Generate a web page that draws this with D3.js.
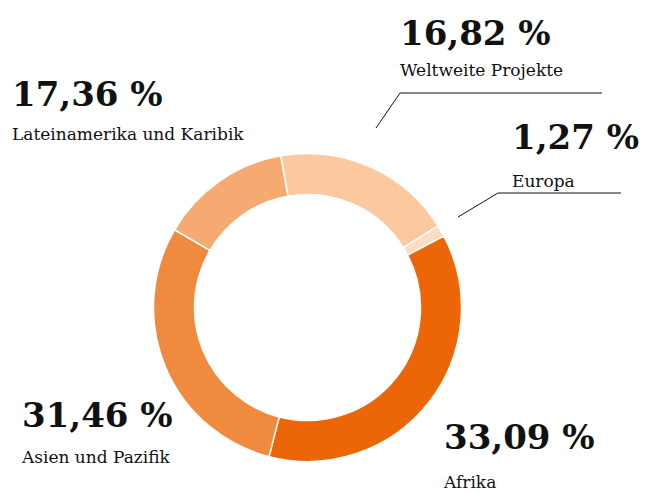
<!DOCTYPE html>
<html>
<head>
<meta charset="utf-8">
<script src="https://cdn.jsdelivr.net/npm/d3@7.9.0/dist/d3.min.js"></script>
<style>
  body { margin: 0; background: #fff; }
  svg text { font-family: "DejaVu Serif", "Liberation Serif", serif; fill: #111; }
  .pct { font-weight: bold; font-size: 34px; }
  .name { font-size: 17px; }
</style>
</head>
<body>
<svg id="chart" width="645" height="493"></svg>
<script>
// regions, clockwise from the top
const regions = ['Weltweite Projekte', 'Europa', 'Afrika', 'Asien und Pazifik', 'Lateinamerika und Karibik'];
// printed percentages
const pctLabels = ['16,82 %', '1,27 %', '33,09 %', '31,46 %', '17,36 %'];
// slice shares as drawn in the ring
const shares = [18.9, 1.2, 36.7, 29.4, 13.8];
const colors = ['#fbc8a0', '#fddcc2', '#ec6608', '#f08a3e', '#f6a970'];

// label blocks: x, baseline of the percentage, baseline of the name
const labelPos = [
  { x: 400, y: 45, ny: 76 },
  { x: 512, y: 149, ny: 187 },
  { x: 444, y: 449, ny: 488 },
  { x: 22, y: 427, ny: 463 },
  { x: 12, y: 106, ny: 140 }
];

const svg = d3.select('#chart');
const cx = 307.5, cy = 307.5;

const pie = d3.pie()
  .sort(null)
  .value((d) => d)
  .startAngle(-10 * Math.PI / 180)
  .endAngle(350 * Math.PI / 180);

const arc = d3.arc().innerRadius(113).outerRadius(154);

const g = svg.append('g').attr('transform', `translate(${cx},${cy})`);

g.selectAll('path')
  .data(pie(shares))
  .join('path')
  .attr('d', arc)
  .attr('fill', (d, i) => colors[i])
  .attr('stroke', '#fff')
  .attr('stroke-width', 1.5);

// leader lines for the two small labels at upper right
const leaders = [
  [[376, 128], [400, 93], [602, 93]],
  [[458, 217], [498, 193], [621, 193]]
];
svg.selectAll('.leader')
  .data(leaders)
  .join('path')
  .attr('class', 'leader')
  .attr('d', d3.line())
  .attr('fill', 'none')
  .attr('stroke', '#111')
  .attr('stroke-width', 1);

const labels = svg.selectAll('.lbl')
  .data(regions)
  .join('g')
  .attr('class', 'lbl')
  .attr('transform', (d, i) => `translate(${labelPos[i].x},0)`);

labels.append('text')
  .attr('class', 'pct')
  .attr('y', (d, i) => labelPos[i].y)
  .text((d, i) => pctLabels[i]);

labels.append('text')
  .attr('class', 'name')
  .attr('y', (d, i) => labelPos[i].ny)
  .text((d) => d);
</script>
</body>
</html>
